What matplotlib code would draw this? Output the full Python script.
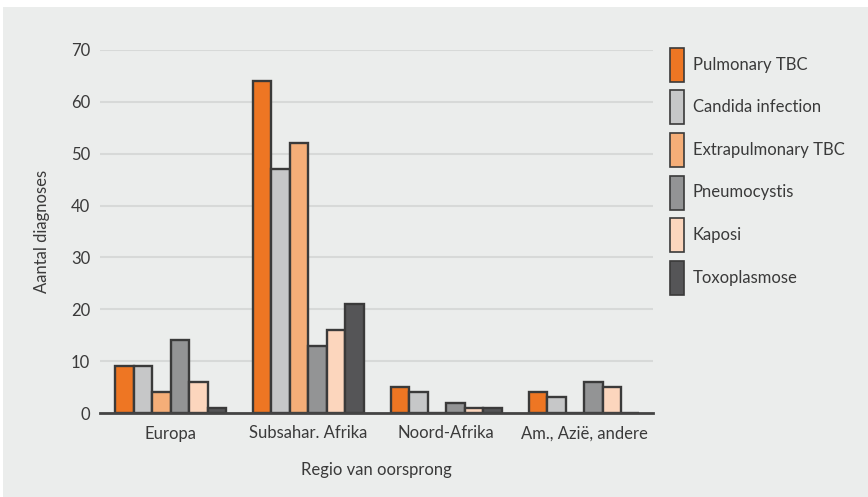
import matplotlib.pyplot as plt
import numpy as np

plt.rcParams['font.family'] = ['Lato', 'DejaVu Sans']

regions = ['Europa', 'Subsahar. Afrika', 'Noord-Afrika', 'Am., Azië, andere']
diagnoses = ['Pulmonary TBC', 'Candida infection', 'Extrapulmonary TBC',
             'Pneumocystis', 'Kaposi', 'Toxoplasmose']
pulmonary_tbc = [9, 64, 5, 4]
candida = [9, 47, 4, 3]
extrapulmonary_tbc = [4, 52, 0, 0]
pneumocystis = [14, 13, 2, 6]
kaposi = [6, 16, 1, 5]
toxoplasmose = [1, 21, 1, 0]
series = [pulmonary_tbc, candida, extrapulmonary_tbc, pneumocystis, kaposi, toxoplasmose]

colors = ['#ee7623', '#c6c7c8', '#f5ae78', '#939495', '#fcd6bd', '#555557']
edge = '#3a3a3a'
bg = '#ebedec'
text_col = '#3a3a3a'
W, H = 868, 497

fig = plt.figure(figsize=(W / 100, H / 100), dpi=100)
fig.patches.append(plt.Rectangle((3 / W, 0), 1, 1 - 7 / H, transform=fig.transFigure,
                                 facecolor=bg, edgecolor='none', zorder=-10))
ax = fig.add_axes([100 / W, 1 - 413 / H, 553 / W, 363 / H])
ax.set_facecolor(bg)

x = np.arange(len(regions))
w = 0.134
for i, (vals, c) in enumerate(zip(series, colors)):
    ax.bar(x + (i - 2.5) * w, vals, width=w, color=c, edgecolor=edge,
           linewidth=1.7, zorder=3)

ax.set_xlim(-0.512, 3.50)
ax.set_ylim(0, 70)
ax.set_yticks(range(0, 71, 10))
ax.yaxis.grid(True, color='#d7d9d8', linewidth=1.5, zorder=0)
ax.set_axisbelow(True)
ax.axhline(0, color='#444444', linewidth=2, zorder=4, clip_on=False)
for s in ax.spines.values():
    s.set_visible(False)
ax.tick_params(length=0, labelsize=12, colors=text_col)
ax.tick_params(axis='y', pad=7)
ax.tick_params(axis='x', pad=9)
ax.set_xticks(x, regions)
ax.set_ylabel('Aantal diagnoses', fontsize=12, color=text_col, labelpad=15)
ax.set_xlabel('Regio van oorsprong', fontsize=12, color=text_col, labelpad=15)

# legend drawn by hand: tall swatches with labels beside them
for i, (name, c) in enumerate(zip(diagnoses, colors)):
    top = 48 + i * 42.5
    fig.patches.append(plt.Rectangle((670 / W, 1 - (top + 34) / H), 14 / W, 34 / H,
                                     transform=fig.transFigure, facecolor=c,
                                     edgecolor=edge, linewidth=1.2))
    fig.text(693 / W, 1 - (top + 17) / H, name, fontsize=12, color=text_col,
             ha='left', va='center')

fig.savefig('out.png', dpi=100, facecolor='white')
